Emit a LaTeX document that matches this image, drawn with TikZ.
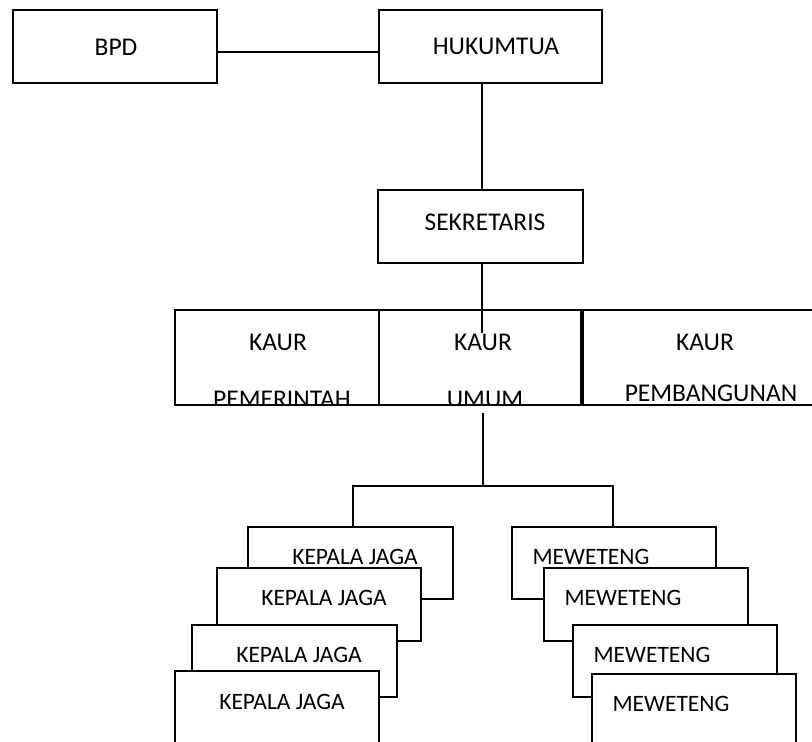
\documentclass[tikz,border=0pt]{standalone}
\usepackage{fontspec}
\setmainfont{Carlito}
\begin{document}
\begin{tikzpicture}[x=1pt,y=-1pt,
  box/.style={draw,rectangle,line width=1.5pt,fill=white,inner sep=0pt},
  big/.style={inner sep=0pt,anchor=base,font=\fontsize{25.5}{30}\selectfont},
  small/.style={inner sep=0pt,anchor=base,font=\fontsize{23.5}{28}\selectfont},
  link/.style={line width=1.5pt}]
\clip (0,0) rectangle (812,742);
\fill[white] (0,0) rectangle (812,742);
% top row
\node[box,minimum width=204pt,minimum height=73pt] (bpd) at (115,46.5) {};
\node[box,minimum width=223pt,minimum height=73pt] (huk) at (490.5,46.5) {};
\node[box,minimum width=205pt,minimum height=73pt] (sek) at (480.5,226.5) {};
\node[big] (tbpd) at (116,55) {BPD};
\node[big] (thuk) at (496,54) {HUKUMTUA};
\node[big] (tsek) at (485,230.5) {SEKRETARIS};
% KAUR row
\node[box,minimum width=204pt,minimum height=95pt] (kp) at (277,357.5) {};
\node[box,minimum width=202pt,minimum height=95pt] (ku) at (480,357.5) {};
\node[box,minimum width=247pt,minimum height=95pt] (kb) at (706.5,357.5) {};
\begin{scope}
\clip (175,311) rectangle (812,404.2);
\node[big] (tkp1) at (278,350.5) {KAUR};
\node[big] (tkp2) at (282,407) {PEMERINTAH};
\node[big] (tku1) at (483,350.5) {KAUR};
\node[big] (tku2) at (485,407) {UMUM};
\node[big] (tkb1) at (705,350.5) {KAUR};
\node[big] (tkb2) at (711,401) {PEMBANGUNAN};
\end{scope}
% KEPALA JAGA stack
\node[box,minimum width=205pt,minimum height=72pt] (kj1) at (350.5,563) {};
\node[small] (tkj1) at (355,564.5) {KEPALA JAGA};
\node[box,minimum width=204pt,minimum height=73pt] (kj2) at (319,604.5) {};
\node[small] (tkj2) at (324,605.5) {KEPALA JAGA};
\node[box,minimum width=205pt,minimum height=72pt] (kj3) at (294.5,661) {};
\node[small] (tkj3) at (299,662.5) {KEPALA JAGA};
\node[box,minimum width=204pt,minimum height=79pt] (kj4) at (277,710.5) {};
\node[small] (tkj4) at (282,709.5) {KEPALA JAGA};
% MEWETENG stack
\node[box,minimum width=204pt,minimum height=72pt] (mw1) at (614,563) {};
\node[small] (tmw1) at (591,564.5) {MEWETENG};
\node[box,minimum width=204pt,minimum height=73pt] (mw2) at (646,604.5) {};
\node[small] (tmw2) at (623,605.5) {MEWETENG};
\node[box,minimum width=204pt,minimum height=72pt] (mw3) at (675,661) {};
\node[small] (tmw3) at (652,662.5) {MEWETENG};
\node[box,minimum width=204pt,minimum height=76pt] (mw4) at (694,712) {};
\node[small] (tmw4) at (671,711.5) {MEWETENG};
% connectors
\coordinate (yline) at (0,52);
\coordinate (spine) at (482,0);
\coordinate (spineend) at (482,333);
\coordinate (fork) at (483,486);
\coordinate (forkL) at (353,486);
\coordinate (forkR) at (613,486);
\draw[link] (bpd.east |- yline) -- (huk.west |- yline);
\draw[link] (huk.south -| spine) -- (sek.north -| spine);
\draw[link] (sek.south -| spine) -- (spineend);
\draw[link] ([yshift=-7pt]ku.south -| fork) -- (fork);
\draw[link] (kj1.north -| forkL) |- (forkR) -- (mw1.north -| forkR);
\end{tikzpicture}
\end{document}
